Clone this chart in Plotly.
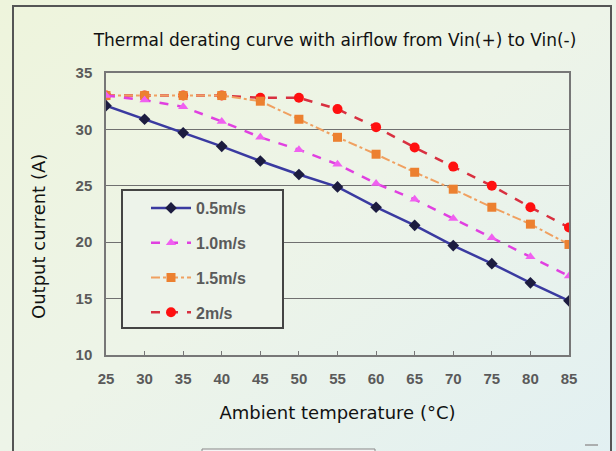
import base64
import plotly.graph_objects as go

temps = [25, 30, 35, 40, 45, 50, 55, 60, 65, 70, 75, 80, 85]
s05 = [32.1, 30.9, 29.7, 28.5, 27.2, 26.0, 24.9, 23.1, 21.5, 19.7, 18.1, 16.4, 14.8]
s10 = [33.0, 32.6, 32.0, 30.7, 29.3, 28.2, 26.9, 25.2, 23.8, 22.1, 20.4, 18.7, 17.0]
s15 = [33.0, 33.0, 33.0, 33.0, 32.5, 30.9, 29.3, 27.8, 26.2, 24.7, 23.1, 21.6, 19.8]
s20 = [33.0, 33.0, 33.0, 33.0, 32.8, 32.8, 31.8, 30.2, 28.4, 26.7, 25.0, 23.1, 21.3]
names = ["0.5m/s", "1.0m/s", "1.5m/s", "2m/s"]
yticks = [10, 15, 20, 25, 30, 35]

L, R, T, B = 106, 47, 73, 96
W, H = 616, 451
pw, ph = W - L - R, H - T - B
def px(x):
    return (x - L) / pw
def py(y):
    return (H - B - y) / ph

styles = [
    dict(line=dict(color="#3a3aa0", width=2.5, dash="solid"),
         marker=dict(symbol="diamond", size=9, color="#1c1c40")),
    dict(line=dict(color="#e040e0", width=2.5, dash="dash"),
         marker=dict(symbol="triangle-up", size=9, color="#f060f0")),
    dict(line=dict(color="#f0a060", width=2, dash="dashdot"),
         marker=dict(symbol="square", size=9, color="#ec8030")),
    dict(line=dict(color="#d83040", width=2.5, dash="dash"),
         marker=dict(symbol="circle", size=10, color="#ff1010")),
]

fig = go.Figure()
series = [s05, s10, s15, s20]
for i in [3, 2, 1, 0]:
    fig.add_trace(go.Scatter(x=temps, y=series[i], mode="lines+markers", name=names[i],
                             legendgroup=names[i], legendrank=i + 1, **styles[i]))

bg = "#edf3e4"
svg = ('<svg xmlns="http://www.w3.org/2000/svg" width="616" height="451">'
       '<defs><linearGradient id="g" x1="0" y1="0" x2="1" y2="1">'
       '<stop offset="0" stop-color="#eef4dc"/><stop offset="0.5" stop-color="#edf4e8"/>'
       '<stop offset="1" stop-color="#e2f0f2"/></linearGradient></defs>'
       '<rect width="616" height="451" fill="url(#g)"/></svg>')
src = "data:image/svg+xml;base64," + base64.b64encode(svg.encode()).decode()

tickfont = dict(size=15, color="#5a5a5a", family="Liberation Sans Narrow, Arial", weight="bold")
fig.update_layout(
    width=W, height=H,
    margin=dict(l=L, r=R, t=T, b=B),
    paper_bgcolor=bg, plot_bgcolor="rgba(0,0,0,0)",
    images=[dict(source=src, xref="paper", yref="paper", x=px(0), y=py(0),
                 sizex=W / pw, sizey=H / ph, sizing="stretch", layer="below",
                 xanchor="left", yanchor="top")],
    title=dict(text="Thermal derating curve with airflow from Vin(+) to Vin(-)",
               x=335 / W, xanchor="center", y=1 - 40 / H, yanchor="middle",
               font=dict(family="DejaVu Sans", size=17, color="#111")),
    font=dict(family="DejaVu Sans", color="#222"),
    xaxis=dict(range=[25, 85], tickmode="array", tickvals=temps, showgrid=False,
               ticks="inside", ticklen=4, tickcolor="#777", linecolor="#777", linewidth=1.5,
               mirror=True, zeroline=False, ticklabelstandoff=9, tickfont=tickfont,
               title=dict(text="Ambient temperature (°C)", standoff=21,
                          font=dict(family="DejaVu Sans", size=18, color="#111"))),
    yaxis=dict(range=[10, 35], tickmode="array", tickvals=yticks, showgrid=True,
               gridcolor="#707070", gridwidth=1, linecolor="#777", linewidth=1.5,
               mirror=True, zeroline=False, ticks="", ticklabelstandoff=9, tickfont=tickfont),
    legend=dict(x=px(146), y=py(191), xanchor="left", yanchor="top",
                bgcolor="rgba(0,0,0,0)", borderwidth=0,
                font=dict(size=16, color="#5a5a5a", family="Liberation Sans Narrow, Arial",
                          weight="bold"),
                tracegroupgap=11, itemwidth=40, traceorder="grouped"),
    showlegend=True,
)

# y-axis title (placed off-centre as in the reference)
fig.add_annotation(text="Output current (A)", xref="paper", yref="paper",
                   x=px(38), y=py(237), textangle=-90, showarrow=False,
                   xanchor="center", yanchor="middle",
                   font=dict(family="DejaVu Sans", size=18, color="#111"))

# legend box (opaque, covers grid lines)
fig.add_shape(type="rect", xref="paper", yref="paper",
              x0=px(122), x1=px(283), y0=py(328), y1=py(190),
              line=dict(color="#444", width=2), fillcolor="#edf3ea", layer="above")
# outer frame
fig.add_shape(type="rect", xref="paper", yref="paper",
              x0=px(13), x1=px(611), y0=py(470), y1=py(6),
              line=dict(color="#555", width=2), layer="below")
# small bar at bottom
fig.add_shape(type="rect", xref="paper", yref="paper",
              x0=px(202), x1=px(375), y0=py(452), y1=py(449),
              line=dict(color="#888", width=1), fillcolor="#f4f4f4")
fig.add_shape(type="line", xref="paper", yref="paper",
              x0=px(585), x1=px(598), y0=py(445), y1=py(445),
              line=dict(color="#999", width=1.5))

fig.write_html("out.html", config={"displayModeBar": False},
               post_script="document.body.style.margin='0';")
